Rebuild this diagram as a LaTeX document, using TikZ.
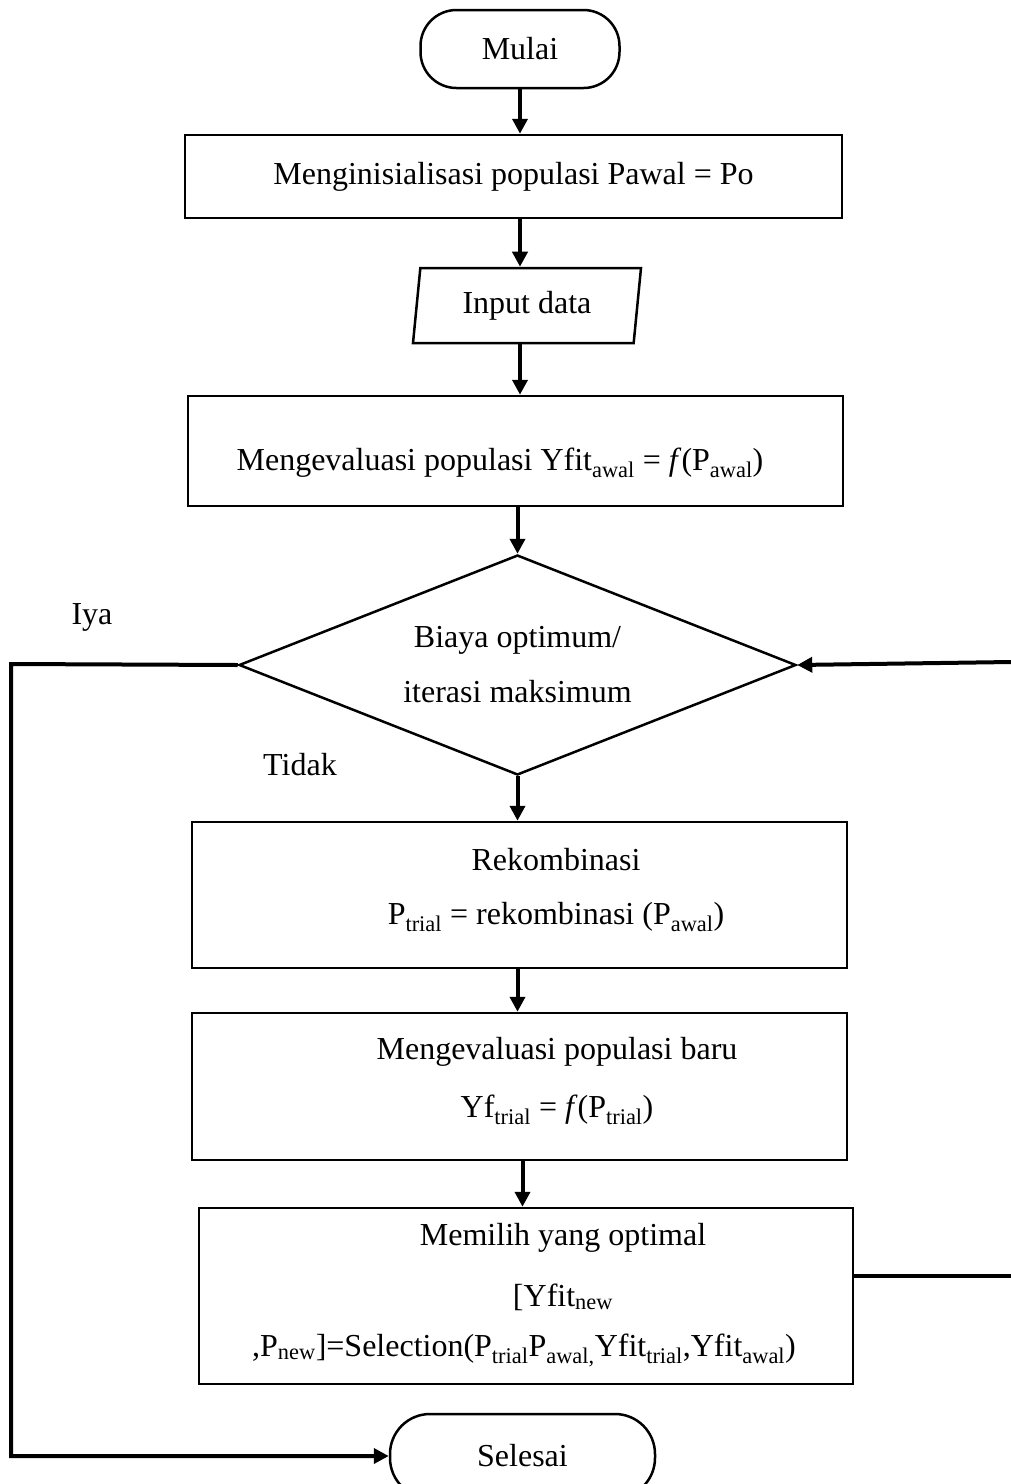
\documentclass[tikz,border=0pt]{standalone}
\usepackage{fontspec}
\setmainfont{Liberation Serif}
\usetikzlibrary{arrows.meta,shapes.geometric}

\begin{document}
\begin{tikzpicture}[x=1pt,y=-1pt,font=\fontsize{32}{38}\selectfont]
\tikzset{
  flowbox/.style={rectangle,draw=black,line width=2.5pt,inner sep=0pt},
  terminal/.style={flowbox,rounded corners=36pt},
  ioshape/.style={trapezium,draw=black,line width=2.5pt,trapezium left angle=75.8,trapezium right angle=104.2,trapezium stretches body,inner sep=0pt},
  decision/.style={diamond,draw=black,line width=2.5pt,inner sep=0pt,aspect=2.53,align=center},
  txt/.style={inner sep=0pt},
  connector/.style={draw=black,line width=4pt},
  flow/.style={connector,-{Triangle[length=15pt,width=15pt]}}
}
\useasboundingbox (0,0) rectangle (1011,1484);
% shapes
\node[terminal,minimum width=199pt,minimum height=78pt] (n_mulai) at (520,49) {Mulai};
\node[flowbox,minimum width=657pt,minimum height=83pt] (n_init) at (513.5,176.5) {Menginisialisasi populasi Pawal = Po};
\node[ioshape,minimum width=228pt,minimum height=75pt] (n_input) at (527,305.5) {Input data};
\node[flowbox,minimum width=655pt,minimum height=110pt] (n_eval) at (515.5,451) {};
\node[decision,minimum width=557pt,minimum height=220pt] (n_dec) at (517.5,665) {\raisebox{-5pt}{Biaya optimum/}\\[17pt]\raisebox{-5pt}{iterasi maksimum}};
\node[flowbox,minimum width=655pt,minimum height=146pt] (n_rek) at (519.5,895) {};
\node[flowbox,minimum width=655pt,minimum height=147pt] (n_evb) at (519.5,1086.5) {};
\node[flowbox,minimum width=654pt,minimum height=176pt] (n_pilih) at (526,1296) {};
\node[terminal,minimum width=265pt,minimum height=84pt,rounded corners=40pt] (n_selesai) at (522.5,1456) {Selesai};
% texts
\node[txt] (t_eval) at (500,463) {Mengevaluasi populasi Yfit\textsubscript{awal} = \textit{f}(P\textsubscript{awal})};
\node[txt] (t_rek1) at (556,860) {Rekombinasi};
\node[txt] (t_rek2) at (556,917) {P\textsubscript{trial} = rekombinasi (P\textsubscript{awal})};
\node[txt] (t_evb1) at (557,1052) {Mengevaluasi populasi baru};
\node[txt] (t_evb2) at (557,1110) {Yf\textsubscript{trial} = \textit{f}(P\textsubscript{trial})};
\node[txt] (t_pil1) at (563,1238) {Memilih yang optimal};
\node[txt] (t_pil2) at (563,1297) {[Yfit\textsubscript{new}};
\node[txt] (t_pil3) at (524,1350) {,P\textsubscript{new}]=Selection(P\textsubscript{trial}P\textsubscript{awal,}Yfit\textsubscript{trial},Yfit\textsubscript{awal})};
\node[txt] (t_iya) at (92,617) {Iya};
\node[txt] (t_tidak) at (300,765) {Tidak};
% loop ends
\coordinate (c_left) at (11,664);
\coordinate (c_right1) at (1011,662);
\coordinate (c_right2) at (1011,1276);
% connectors
\draw[flow] (n_mulai.south) -- (n_mulai.south |- n_init.north);
\draw[flow] (n_mulai.south |- n_init.south) -- (n_mulai.south |- n_input.north);
\draw[flow] (n_mulai.south |- n_input.south) -- (n_mulai.south |- n_eval.north);
\draw[flow] (n_dec.north |- n_eval.south) -- (n_dec.north);
\draw[flow] (n_dec.south) -- (n_dec.south |- n_rek.north);
\draw[flow] (n_dec.south |- n_rek.south) -- (n_dec.south |- n_evb.north);
\draw[flow] ([xshift=5pt]n_dec.south |- n_evb.south) -- ([xshift=5pt]n_dec.south |- n_pilih.north);
\draw[flow] (n_dec.west) -- (c_left) |- (n_selesai.west);
\draw[flow] (c_right1) -- (n_dec.east);
\draw[connector] (n_pilih.east |- c_right2) -- (c_right2);
\end{tikzpicture}
\end{document}
